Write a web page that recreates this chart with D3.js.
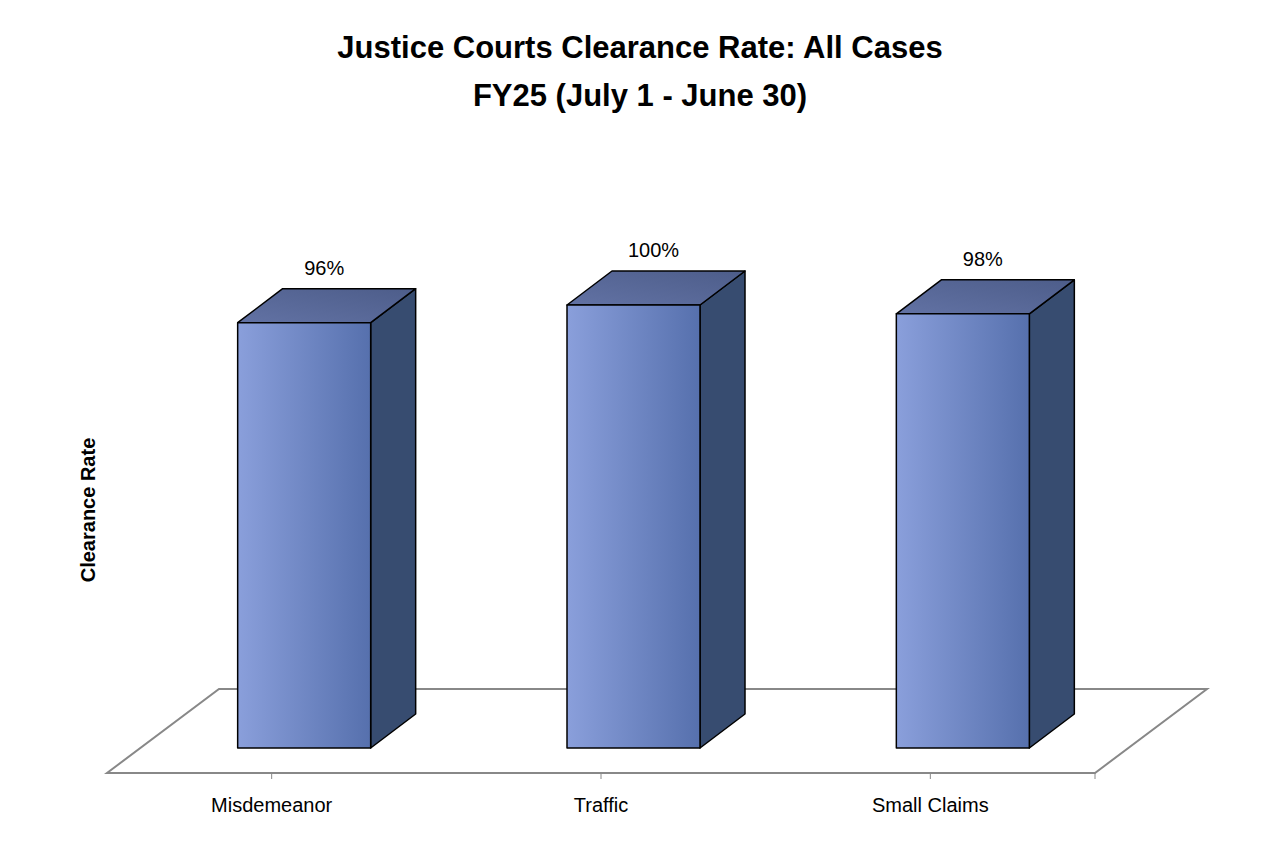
<!DOCTYPE html>
<html><head><meta charset="utf-8">
<script src="https://cdn.jsdelivr.net/npm/d3@7"></script>
<style>body{margin:0;background:#fff}</style>
</head><body>
<svg width="1280" height="844"></svg>
<script>
// chart data
var categories = ['Misdemeanor', 'Traffic', 'Small Claims'];
var values = [96, 100, 98];
var valueLabels = ['96%', '100%', '98%'];

var svg = d3.select('svg');
var font = 'Liberation Sans, Arial, sans-serif';

var x = d3.scaleBand().domain(categories).range([107, 1095]);
var y = d3.scaleLinear().domain([0, 100]).range([748, 305]);

var fdx = 112, fdy = -84;   // floor depth
var bdx = 45, bdy = -34;    // bar depth
var bw = 133;

var defs = svg.append('defs');
var g1 = defs.append('linearGradient').attr('id', 'front');
g1.append('stop').attr('offset', '0%').attr('stop-color', '#8a9fdb');
g1.append('stop').attr('offset', '100%').attr('stop-color', '#5670ad');
var g2 = defs.append('linearGradient').attr('id', 'top').attr('x1', 0).attr('y1', 1).attr('x2', 1).attr('y2', 0);
g2.append('stop').attr('offset', '0%').attr('stop-color', '#6272a4');
g2.append('stop').attr('offset', '100%').attr('stop-color', '#4d5d8a');

// floor
var x0 = x.range()[0], x1 = x.range()[1], fy = 773;
svg.append('path')
  .attr('d', 'M' + x0 + ',' + fy + 'L' + x1 + ',' + fy + 'L' + (x1 + fdx) + ',' + (fy + fdy) + 'L' + (x0 + fdx) + ',' + (fy + fdy) + 'Z')
  .attr('fill', '#fff').attr('stroke', '#888').attr('stroke-width', 2);

// ticks
svg.selectAll('.tick').data(categories).enter().append('line')
  .attr('x1', d => x(d) + x.bandwidth() / 2).attr('x2', d => x(d) + x.bandwidth() / 2)
  .attr('y1', fy).attr('y2', fy + 6).attr('stroke', '#888');
svg.append('line').attr('x1', x1).attr('x2', x1).attr('y1', fy).attr('y2', fy + 6).attr('stroke', '#888');

categories.forEach(function(c, i) {
  var bx = x(c) + x.bandwidth() / 2 - 34, by = y(values[i]), b0 = y(0);
  var g = svg.append('g').attr('stroke', '#000').attr('stroke-width', 1.5).attr('stroke-linejoin', 'round');
  g.append('path').attr('fill', '#374c70')
    .attr('d', 'M' + (bx + bw) + ',' + by + 'L' + (bx + bw + bdx) + ',' + (by + bdy) + 'L' + (bx + bw + bdx) + ',' + (b0 + bdy) + 'L' + (bx + bw) + ',' + b0 + 'Z');
  g.append('path').attr('fill', 'url(#top)')
    .attr('d', 'M' + bx + ',' + by + 'L' + (bx + bdx) + ',' + (by + bdy) + 'L' + (bx + bw + bdx) + ',' + (by + bdy) + 'L' + (bx + bw) + ',' + by + 'Z');
  g.append('rect').attr('x', bx).attr('y', by).attr('width', bw).attr('height', b0 - by).attr('fill', 'url(#front)');
  svg.append('text').attr('x', bx + bw / 2 + 20).attr('y', by - 48).attr('text-anchor', 'middle')
    .attr('font-family', font).attr('font-size', 20).text(valueLabels[i]);
  svg.append('text').attr('x', x(c) + x.bandwidth() / 2).attr('y', 812).attr('text-anchor', 'middle')
    .attr('font-family', font).attr('font-size', 20).text(c);
});

svg.append('text').attr('x', 640).attr('y', 58).attr('text-anchor', 'middle')
  .attr('font-family', font).attr('font-weight', 'bold').attr('font-size', 31).text('Justice Courts Clearance Rate: All Cases');
svg.append('text').attr('x', 640).attr('y', 106).attr('text-anchor', 'middle')
  .attr('font-family', font).attr('font-weight', 'bold').attr('font-size', 31).text('FY25 (July 1 - June 30)');
svg.append('text').attr('transform', 'translate(95,510) rotate(-90)').attr('text-anchor', 'middle')
  .attr('font-family', font).attr('font-weight', 'bold').attr('font-size', 20).text('Clearance Rate');
</script>
</body></html>
